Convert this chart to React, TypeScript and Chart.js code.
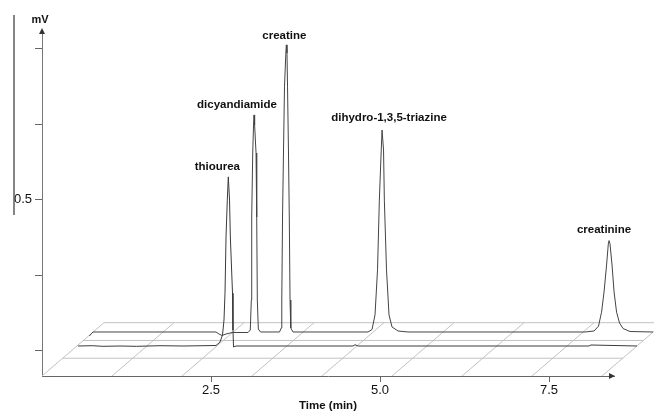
import React, { useEffect, useRef } from 'react';
import { Chart, registerables } from 'chart.js';

Chart.register(...registerables);

// Front run (thiourea) – time (min) and signal (mV) as read on the axes
const frontTimes = [0.533, 0.75, 0.9, 1.154, 1.4, 1.746, 2.1, 2.574, 2.633, 2.670, 2.692, 2.707, 2.722, 2.741, 2.756, 2.774, 2.786, 2.818, 2.825, 2.833, 2.870, 4.60, 4.630, 4.675, 8.09, 8.12, 8.802];
const frontValues = [0.0149, 0.0159, 0.0139, 0.0149, 0.0139, 0.0159, 0.0149, 0.0166, 0.0281, 0.0513, 0.101, 0.190, 0.376, 0.498, 0.575, 0.498, 0.376, 0.190, 0.0679, 0.0116, 0.0149, 0.0149, 0.0192, 0.0149, 0.0149, 0.0182, 0.0149];

// Back run (dicyandiamide, creatine, dihydro-1,3,5-triazine, creatinine)
const backTimes = [0.700, 0.754, 2.574, 2.618, 2.663, 2.722, 2.811, 3.047, 3.081, 3.096, 3.102, 3.117, 3.129, 3.136, 3.145, 3.166, 3.176, 3.185, 3.200, 3.232, 3.513, 3.540, 3.547, 3.558, 3.572, 3.587, 3.607, 3.614, 3.624, 3.632, 3.646, 3.658, 3.669, 3.680, 3.713, 4.822, 4.882, 4.926, 4.963, 4.990, 5.018, 5.030, 5.052, 5.064, 5.096, 5.133, 5.178, 5.266, 5.414, 8.033, 8.166, 8.232, 8.277, 8.314, 8.351, 8.377, 8.388, 8.402, 8.432, 8.462, 8.499, 8.543, 8.595, 8.698, 9.038];
const backValues = [0.048, 0.0613, 0.0613, 0.0546, 0.0497, 0.0546, 0.0596, 0.0596, 0.0679, 0.167, 0.442, 0.654, 0.747, 0.780, 0.747, 0.654, 0.442, 0.167, 0.0712, 0.0613, 0.0613, 0.0745, 0.167, 0.442, 0.654, 0.873, 0.985, 1.012, 0.985, 0.873, 0.654, 0.442, 0.167, 0.0745, 0.0613, 0.0613, 0.0695, 0.118, 0.267, 0.498, 0.664, 0.730, 0.664, 0.498, 0.267, 0.118, 0.0778, 0.0646, 0.0613, 0.0613, 0.0646, 0.081, 0.127, 0.194, 0.283, 0.353, 0.364, 0.353, 0.283, 0.194, 0.127, 0.091, 0.0728, 0.0629, 0.0613];

const peakNames = ['thiourea', 'dicyandiamide', 'creatine', 'dihydro-1,3,5-triazine', 'creatinine'];
const peakTimes = [2.756, 3.136, 3.614, 5.030, 8.388];
const peakValues = [0.575, 0.780, 1.012, 0.730, 0.364];

const xTickValues = [2.5, 5.0, 7.5];
const xTickLabels = ['2.5', '5.0', '7.5'];
const yTickValues = [0, 0.25, 0.5, 0.75, 1.0];
const yTickLabels = ['', '', '0.5', '', ''];
const xTitle = 'Time (min)';
const yTitle = 'mV';

const FONT = '"Liberation Sans", Arial, Helvetica, sans-serif';
const labelDx = [-11, -17, -2, 7, -5];
const labelDy = [-10, -10, -9, -12, -11];

const decor = {
  id: 'decor',
  beforeDatasetsDraw(chart: any) {
    const { ctx } = chart;
    const x = chart.scales.x;
    const y = chart.scales.y;
    const y0 = y.min;
    const depthT = 0.917;
    const depthV = 0.1765;
    const floorEnd = 8.284;
    const nDiag = 8;
    const nDepth = 3;
    ctx.save();
    ctx.strokeStyle = '#c2c2c2';
    ctx.lineWidth = 1;
    ctx.beginPath();
    for (let k = 1; k <= nDepth; k++) {
      const f = k / nDepth;
      ctx.moveTo(x.getPixelForValue(f * depthT), y.getPixelForValue(y0 + f * depthV));
      ctx.lineTo(x.getPixelForValue(floorEnd + f * depthT), y.getPixelForValue(y0 + f * depthV));
    }
    for (let i = 0; i <= nDiag; i++) {
      const t = (floorEnd * i) / nDiag;
      ctx.moveTo(x.getPixelForValue(t), y.getPixelForValue(y0));
      ctx.lineTo(x.getPixelForValue(t + depthT), y.getPixelForValue(y0 + depthV));
    }
    ctx.stroke();
    ctx.restore();
  },
  afterDatasetsDraw(chart: any) {
    const { ctx, chartArea } = chart;
    const x = chart.scales.x;
    const y = chart.scales.y;
    ctx.save();
    ctx.fillStyle = '#333';
    const ax = chartArea.left;
    const at = chartArea.top;
    ctx.beginPath();
    ctx.moveTo(ax, at - 2);
    ctx.lineTo(ax - 3, at + 4);
    ctx.lineTo(ax + 3, at + 4);
    ctx.closePath();
    ctx.fill();
    const rx = chartArea.right;
    const rb = chartArea.bottom;
    ctx.beginPath();
    ctx.moveTo(rx + 1, rb);
    ctx.lineTo(rx - 5, rb - 3);
    ctx.lineTo(rx - 5, rb + 3);
    ctx.closePath();
    ctx.fill();
    ctx.fillStyle = '#111';
    ctx.font = `bold 11px ${FONT}`;
    ctx.textAlign = 'center';
    ctx.textBaseline = 'middle';
    ctx.fillText(yTitle, ax - 2, at - 10);
    ctx.strokeStyle = '#444';
    ctx.lineWidth = 1.3;
    ctx.beginPath();
    ctx.moveTo(14, 15);
    ctx.lineTo(14, 215);
    ctx.stroke();
    ctx.font = `bold 11.5px ${FONT}`;
    ctx.fillStyle = '#111';
    for (let i = 0; i < peakNames.length; i++) {
      const px = x.getPixelForValue(peakTimes[i]) + labelDx[i];
      const py = y.getPixelForValue(peakValues[i]) + labelDy[i];
      ctx.fillText(peakNames[i], px, py);
    }
    ctx.restore();
  },
};

export default function App() {
  const ref = useRef<HTMLCanvasElement>(null);
  useEffect(() => {
    const front = frontTimes.map((t, i) => ({ x: t, y: frontValues[i] }));
    const back = backTimes.map((t, i) => ({ x: t, y: backValues[i] }));
    const chart = new Chart(ref.current as HTMLCanvasElement, {
      type: 'line',
      data: {
        datasets: [
          { data: back, borderColor: '#444', borderWidth: 1, pointRadius: 0, tension: 0, clip: false } as any,
          { data: front, borderColor: '#3a3a3a', borderWidth: 1, pointRadius: 0, tension: 0, clip: false } as any,
        ],
      },
      options: {
        animation: false,
        responsive: true,
        maintainAspectRatio: false,
        layout: { padding: { top: 30, right: 40, bottom: 0, left: 0 } },
        plugins: { legend: { display: false }, tooltip: { enabled: false } },
        scales: {
          x: {
            type: 'linear',
            position: 'bottom',
            bounds: 'data',
            afterDataLimits: (s: any) => { s.min = 0; s.max = 8.461; },
            afterBuildTicks: (s: any) => { s.ticks = xTickValues.map((v) => ({ value: v })); },
            afterFit: (s: any) => { s.height = 38; },
            ticks: {
              autoSkip: false,
              maxRotation: 0,
              padding: 1,
              color: '#111',
              font: { family: FONT, size: 13 },
              callback: (v: any) => { const i = xTickValues.indexOf(Number(v)); return i >= 0 ? xTickLabels[i] : ''; },
            },
            grid: { display: true, drawOnChartArea: false, drawTicks: true, tickLength: 6, color: '#666' },
            border: { display: true, color: '#666', width: 1 },
            title: { display: true, text: xTitle, color: '#111', font: { family: FONT, size: 11.5, weight: 'bold' }, padding: { top: 0, bottom: 1 } },
          },
          y: {
            type: 'linear',
            position: 'left',
            min: -0.0844,
            max: 1.0613,
            afterBuildTicks: (s: any) => { s.ticks = yTickValues.map((v) => ({ value: v })); },
            afterFit: (s: any) => { s.width = 42; },
            ticks: {
              autoSkip: false,
              padding: 3,
              color: '#111',
              font: { family: FONT, size: 13 },
              callback: (v: any) => { const i = yTickValues.indexOf(Number(v)); return i >= 0 ? yTickLabels[i] : ''; },
            },
            grid: { display: true, drawOnChartArea: false, drawTicks: true, tickLength: 7, color: '#666' },
            border: { display: true, color: '#777', width: 1 },
          },
        },
      },
      plugins: [decor],
    } as any);
    return () => chart.destroy();
  }, []);
  return (
    <div style={{ position: 'fixed', left: 0, top: 0, width: 654, height: 414, background: '#fff' }}>
      <canvas ref={ref} />
    </div>
  );
}
